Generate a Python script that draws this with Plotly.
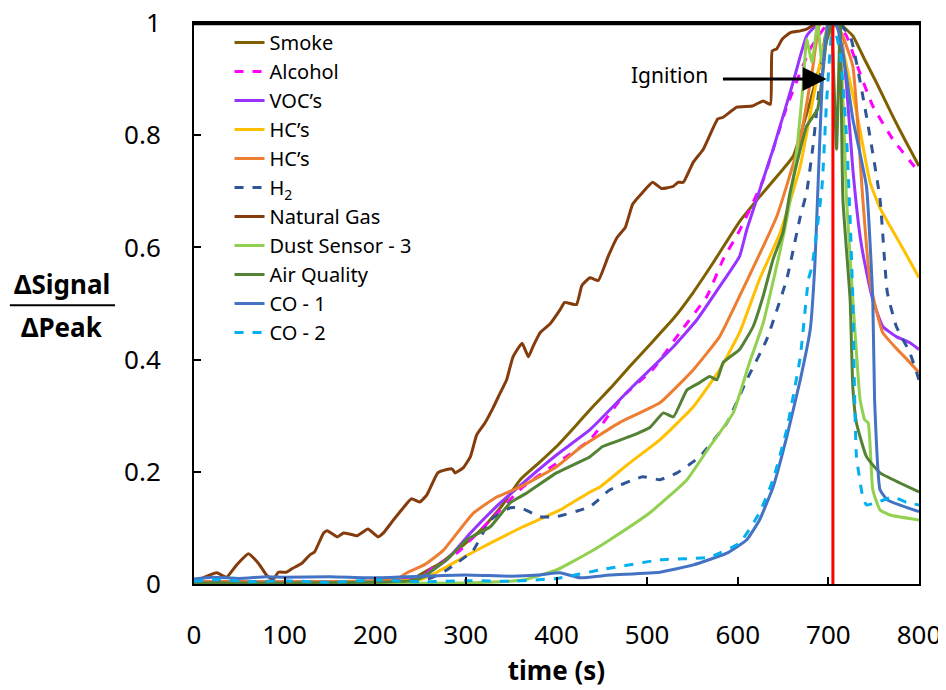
import plotly.graph_objects as go

# ---------------- data ----------------
x_ticks = [0, 100, 200, 300, 400, 500, 600, 700, 800]
x_tick_labels = ["0", "100", "200", "300", "400", "500", "600", "700", "800"]
y_ticks = [0, 0.2, 0.4, 0.6, 0.8, 1.0]
y_tick_labels = ["0", "0.2", "0.4", "0.6", "0.8", "1"]

smoke_t = [0, 50, 100, 150, 200, 240, 253, 270, 290, 319, 340, 360, 380, 400, 420, 440, 460, 481, 506, 530, 551, 573, 602, 624, 645, 661, 680, 695, 705, 715, 727, 740, 753, 771, 785, 800]
smoke_y = [0.003, 0.004, 0.003, 0.004, 0.005, 0.008, 0.02, 0.035, 0.06, 0.10, 0.14, 0.186, 0.215, 0.245, 0.28, 0.316, 0.35, 0.388, 0.432, 0.475, 0.52, 0.573, 0.646, 0.69, 0.73, 0.762, 0.86, 0.95, 1.0, 0.995, 0.977, 0.935, 0.894, 0.834, 0.79, 0.745]

alcohol_t = [0, 100, 200, 250, 264, 290, 327, 363, 400, 437, 473, 506, 536, 566, 584, 602, 628, 654, 680, 700, 710, 720, 735, 749, 771, 800]
alcohol_y = [0.003, 0.003, 0.004, 0.01, 0.03, 0.055, 0.114, 0.173, 0.215, 0.257, 0.334, 0.382, 0.448, 0.513, 0.579, 0.63, 0.72, 0.85, 0.954, 1.0, 1.0, 0.977, 0.91, 0.852, 0.793, 0.734]

voc_t = [0, 100, 200, 250, 280, 305, 335, 363, 400, 437, 484, 529, 555, 580, 602, 610, 639, 661, 676, 690, 705, 713, 720, 727, 735, 740, 749, 760, 775, 790, 800]
voc_y = [0.004, 0.004, 0.005, 0.012, 0.045, 0.091, 0.14, 0.18, 0.23, 0.275, 0.352, 0.423, 0.471, 0.53, 0.584, 0.632, 0.775, 0.894, 0.977, 1.0, 1.0, 0.989, 0.888, 0.739, 0.62, 0.573, 0.507, 0.459, 0.441, 0.43, 0.418]

hc_yellow_t = [0, 100, 200, 250, 268, 300, 327, 363, 404, 437, 448, 480, 514, 551, 580, 602, 624, 647, 669, 683, 694, 700, 710, 716, 732, 746, 757, 768, 785, 800]
hc_yellow_y = [0.003, 0.003, 0.004, 0.008, 0.021, 0.05, 0.073, 0.102, 0.132, 0.164, 0.173, 0.215, 0.257, 0.316, 0.382, 0.448, 0.543, 0.627, 0.745, 0.864, 0.954, 1.0, 1.0, 0.954, 0.834, 0.716, 0.67, 0.638, 0.59, 0.546]

hc_orange_t = [0, 100, 200, 225, 235, 255, 275, 308, 334, 360, 400, 426, 470, 514, 551, 580, 602, 643, 669, 683, 691, 705, 715, 727, 738, 746, 760, 775, 787, 800]
hc_orange_y = [0.004, 0.004, 0.006, 0.01, 0.02, 0.035, 0.06, 0.126, 0.155, 0.173, 0.209, 0.243, 0.288, 0.323, 0.382, 0.441, 0.513, 0.655, 0.793, 0.923, 1.0, 1.0, 0.98, 0.923, 0.686, 0.537, 0.448, 0.42, 0.4, 0.377]

h2_t = [0, 100, 200, 260, 279, 308, 327, 349, 360, 382, 400, 437, 459, 495, 514, 533, 558, 588, 610, 632, 654, 669, 676, 683, 700, 710, 724, 742, 757, 765, 775, 790, 800]
h2_y = [0.002, 0.002, 0.003, 0.01, 0.025, 0.06, 0.114, 0.136, 0.136, 0.12, 0.12, 0.138, 0.168, 0.191, 0.186, 0.198, 0.227, 0.287, 0.364, 0.436, 0.543, 0.655, 0.698, 0.78, 1.0, 1.0, 0.977, 0.834, 0.686, 0.52, 0.459, 0.412, 0.364]

natgas_t = [0, 25, 36, 47, 60, 71, 80, 87, 93, 102, 109, 119, 128, 133, 143, 147, 158, 165, 172, 180, 192, 203, 209, 220, 231, 240, 249, 257, 269, 279, 285, 288, 297, 305, 312, 321, 330, 338, 345, 352, 362, 369, 374, 382, 393, 404, 409, 422, 428, 437, 446, 457, 467, 476, 484, 495, 506, 516, 529, 534, 540, 551, 562, 578, 584, 599, 616, 628, 636, 638, 643, 649, 658, 669, 676, 687, 700, 710]
natgas_y = [0.004, 0.02, 0.012, 0.034, 0.054, 0.037, 0.016, 0.007, 0.021, 0.021, 0.028, 0.037, 0.052, 0.057, 0.091, 0.095, 0.084, 0.091, 0.089, 0.086, 0.098, 0.084, 0.091, 0.114, 0.136, 0.152, 0.146, 0.159, 0.198, 0.204, 0.205, 0.198, 0.207, 0.227, 0.266, 0.287, 0.314, 0.341, 0.364, 0.405, 0.429, 0.405, 0.423, 0.448, 0.464, 0.489, 0.502, 0.498, 0.532, 0.546, 0.541, 0.584, 0.618, 0.636, 0.677, 0.698, 0.716, 0.705, 0.709, 0.716, 0.716, 0.752, 0.775, 0.829, 0.832, 0.85, 0.852, 0.861, 0.855, 0.95, 0.954, 0.971, 0.983, 0.986, 0.989, 1.0, 1.0, 1.0]

dust_t = [0, 100, 200, 300, 363, 400, 437, 459, 503, 544, 569, 595, 613, 628, 647, 658, 665, 672, 676, 682, 688, 693, 700, 710, 720, 727, 735, 740, 744, 749, 757, 768, 800]
dust_y = [0.001, 0.001, 0.001, 0.002, 0.007, 0.025, 0.057, 0.079, 0.127, 0.186, 0.245, 0.305, 0.395, 0.465, 0.596, 0.686, 0.77, 0.888, 0.971, 0.93, 1.0, 0.93, 1.0, 1.0, 0.686, 0.507, 0.329, 0.293, 0.287, 0.168, 0.132, 0.123, 0.114]

air_t = [0, 100, 200, 240, 253, 282, 301, 327, 349, 367, 400, 437, 451, 481, 503, 518, 529, 544, 558, 569, 577, 584, 602, 617, 628, 639, 650, 658, 676, 688, 693, 698, 703, 709, 713, 716, 724, 727, 731, 742, 757, 779, 800]
air_y = [0.002, 0.002, 0.003, 0.006, 0.0125, 0.048, 0.079, 0.102, 0.145, 0.162, 0.198, 0.227, 0.245, 0.263, 0.279, 0.305, 0.298, 0.346, 0.359, 0.37, 0.364, 0.395, 0.418, 0.459, 0.513, 0.579, 0.627, 0.7, 0.816, 0.846, 0.9, 0.971, 1.0, 0.775, 1.0, 0.686, 0.507, 0.35, 0.287, 0.227, 0.198, 0.18, 0.164]

co1_t = [0, 20, 50, 80, 100, 150, 200, 250, 300, 350, 380, 404, 426, 459, 514, 551, 588, 610, 624, 639, 654, 669, 680, 685, 688, 694, 700, 708, 716, 727, 742, 749, 751, 757, 765, 780, 800]
co1_y = [0.009, 0.012, 0.01, 0.013, 0.012, 0.013, 0.011, 0.014, 0.016, 0.014, 0.016, 0.02, 0.011, 0.016, 0.021, 0.034, 0.055, 0.079, 0.114, 0.173, 0.262, 0.364, 0.454, 0.566, 0.686, 0.918, 1.0, 1.0, 0.948, 0.829, 0.709, 0.507, 0.329, 0.168, 0.15, 0.14, 0.129]

co2_t = [0, 30, 60, 100, 150, 200, 250, 300, 350, 400, 448, 514, 569, 602, 624, 639, 654, 669, 678, 682, 693, 698, 705, 713, 720, 724, 727, 729, 731, 738, 742, 753, 771, 787, 800]
co2_y = [0.005, 0.008, 0.004, 0.006, 0.003, 0.007, 0.004, 0.006, 0.005, 0.01, 0.025, 0.043, 0.048, 0.073, 0.127, 0.186, 0.275, 0.405, 0.543, 0.566, 0.709, 0.859, 1.0, 0.948, 0.798, 0.65, 0.507, 0.329, 0.227, 0.155, 0.141, 0.145, 0.155, 0.145, 0.141]

ignition_t = 705

series = [
    ("Smoke", smoke_t, smoke_y, "#7F6000", "solid"),
    ("Alcohol", alcohol_t, alcohol_y, "#FF00FF", "dash"),
    ("VOC’s", voc_t, voc_y, "#9933FF", "solid"),
    ("HC’s", hc_yellow_t, hc_yellow_y, "#FFC000", "solid"),
    ("HC’s", hc_orange_t, hc_orange_y, "#ED7D31", "solid"),
    ("H<sub>2</sub>", h2_t, h2_y, "#2F5597", "dash"),
    ("Natural Gas", natgas_t, natgas_y, "#843C0C", "solid"),
    ("Dust Sensor - 3", dust_t, dust_y, "#92D050", "solid"),
    ("Air Quality", air_t, air_y, "#548235", "solid"),
    ("CO - 1", co1_t, co1_y, "#4472C4", "solid"),
    ("CO - 2", co2_t, co2_y, "#00B0F0", "dash"),
]

FONT = "Noto Sans"

fig = go.Figure()
for i, (name, t, y, color, dash) in enumerate(series):
    fig.add_trace(go.Scatter(
        x=t, y=y, mode="lines", name=name,
        line=dict(color=color, width=3, dash=dash, shape="spline", smoothing=0.4),
    ))

fig.add_shape(type="line", xref="x", yref="y", x0=ignition_t, x1=ignition_t, y0=0, y1=1,
              line=dict(color="#FF0000", width=3), layer="above")

# plot frame (top edge drawn explicitly)
fig.add_shape(type="line", xref="paper", yref="paper", x0=0, x1=1, y0=0.998, y1=0.998,
              line=dict(color="black", width=2.5), layer="above")

fig.add_annotation(x=698, y=0.9, ax=582, ay=0.9, xref="x", yref="y", axref="x", ayref="y",
                   text="", showarrow=True, arrowhead=2, arrowsize=1.6, arrowwidth=3,
                   arrowcolor="black")
fig.add_annotation(x=525, y=0.907, xref="x", yref="y", text="Ignition", showarrow=False,
                   font=dict(family=FONT, size=21, color="black"))

# y-axis fraction label
fig.add_annotation(x=-0.182, y=0.535, xref="paper", yref="paper", text="<b>ΔSignal</b>",
                   xanchor="center", yanchor="middle",
                   showarrow=False, font=dict(family=FONT, size=26, color="black"))
fig.add_annotation(x=-0.182, y=0.458, xref="paper", yref="paper", text="<b>ΔPeak</b>",
                   xanchor="center", yanchor="middle",
                   showarrow=False, font=dict(family=FONT, size=26, color="black"))
fig.add_shape(type="line", xref="paper", yref="paper", x0=-0.254, x1=-0.109, y0=0.497, y1=0.497,
              line=dict(color="black", width=2))

fig.update_layout(
    width=938, height=682,
    margin=dict(l=186, r=27, t=15, b=106),
    paper_bgcolor="white", plot_bgcolor="white",
    font=dict(family=FONT, color="black"),
    showlegend=True,
    legend=dict(x=0.049, y=1.0, xanchor="left", yanchor="top",
                bgcolor="rgba(255,255,255,0)", font=dict(family=FONT, size=20, color="black")),
    xaxis=dict(range=[0, 800], tickvals=x_ticks, ticktext=x_tick_labels, automargin=False,
               showline=True, linecolor="black", linewidth=2, mirror=True,
               ticks="inside", ticklen=7, tickwidth=2, tickcolor="black",
               showgrid=False, zeroline=False, ticklabelstandoff=27,
               ticklabeloverflow="allow",
               tickfont=dict(family=FONT, size=26),
               title=dict(text="<b>time (s)</b>", font=dict(family=FONT, size=26), standoff=6)),
    yaxis=dict(range=[0, 1], tickvals=y_ticks, ticktext=y_tick_labels, automargin=False,
               showline=True, linecolor="black", linewidth=2, mirror=True,
               ticks="inside", ticklen=7, tickwidth=2, tickcolor="black",
               showgrid=False, zeroline=False, ticklabelstandoff=26,
               ticklabeloverflow="allow",
               tickfont=dict(family=FONT, size=26)),
)

fig.write_html("out.html")
